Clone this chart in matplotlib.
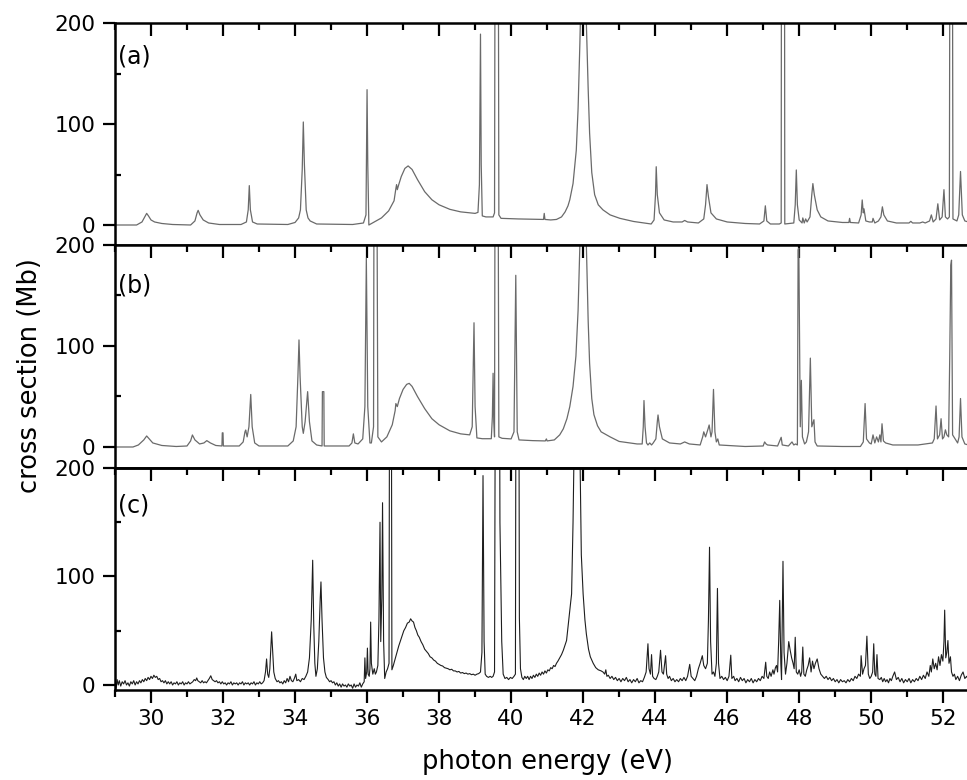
import matplotlib
matplotlib.use("Agg")
import matplotlib.pyplot as plt
import numpy as np
from matplotlib.ticker import MultipleLocator

# (photon energy in eV, cross section in Mb)
trace_a = [
    (29.00, 0), (29.60, 0), (29.75, 3), (29.84, 9), (29.88, 11.5), (29.93, 9), (30.00, 5),
    (30.10, 3), (30.30, 1.5), (30.60, 0.5), (31.10, 0), (31.22, 4), (31.28, 12), (31.31, 14.5),
    (31.36, 10), (31.45, 5), (31.60, 2), (31.90, 0.5), (32.50, 0.5), (32.65, 3), (32.70, 15),
    (32.73, 39), (32.76, 15), (32.82, 3), (32.95, 1), (33.80, 0.5), (34.00, 2.5), (34.10, 7),
    (34.15, 15), (34.20, 55), (34.23, 102), (34.26, 60), (34.31, 15), (34.36, 7), (34.42, 4),
    (34.60, 1), (35.60, 0.5), (35.90, 2), (35.97, 10), (36.00, 134), (36.02, 60), (36.05, 0),
    (36.20, 3), (36.40, 7), (36.60, 14), (36.75, 24), (36.80, 36), (36.82, 40), (36.84, 35),
    (36.88, 40), (36.95, 48), (37.05, 56), (37.14, 58.5), (37.25, 55), (37.40, 45), (37.60, 33),
    (37.80, 25), (38.00, 20), (38.30, 15.5), (38.60, 13), (39.00, 11.5), (39.08, 12.5),
    (39.12, 40), (39.15, 189), (39.17, 60), (39.20, 9), (39.30, 8), (39.50, 8), (39.54, 12),
    (39.56, 400), (39.64, 400), (39.66, 10), (39.72, 6.6), (40.20, 6), (40.90, 5.5),
    (40.92, 11.5), (40.94, 5.5), (41.10, 5), (41.26, 5.5), (41.40, 8), (41.50, 13), (41.58, 19),
    (41.63, 25), (41.72, 41), (41.81, 74), (41.86, 115), (41.91, 180), (41.96, 260),
    (42.04, 260), (42.09, 200), (42.14, 135), (42.18, 91), (42.24, 52), (42.32, 30), (42.42, 20),
    (42.55, 15), (42.75, 10), (43.02, 6.6), (43.40, 3.5), (43.89, 1), (43.97, 5), (44.01, 30),
    (44.03, 57.7), (44.06, 30), (44.12, 12), (44.25, 5), (44.50, 3), (44.75, 3), (44.82, 4.5),
    (44.90, 3), (45.20, 2), (45.35, 6), (45.40, 20), (45.44, 40), (45.48, 28), (45.55, 12),
    (45.70, 6), (46.00, 3), (46.50, 1.5), (46.90, 1), (47.02, 4), (47.06, 19), (47.10, 4),
    (47.20, 1), (47.45, 1), (47.50, 2), (47.51, 400), (47.59, 400), (47.60, 1), (47.85, 2),
    (47.89, 20), (47.92, 54.5), (47.95, 20), (48.00, 5), (48.08, 2), (48.10, 7), (48.14, 2),
    (48.18, 6), (48.22, 3), (48.30, 8), (48.35, 30), (48.38, 41), (48.42, 30), (48.50, 15),
    (48.60, 8), (48.80, 4), (49.20, 2.5), (49.38, 2.5), (49.40, 6.6), (49.42, 2.5), (49.65, 2),
    (49.72, 10), (49.75, 24.8), (49.78, 12), (49.80, 16), (49.85, 4), (49.95, 3), (50.03, 3),
    (50.05, 6.6), (50.10, 2), (50.20, 4), (50.27, 8), (50.31, 18), (50.35, 10), (50.45, 4),
    (50.70, 2), (51.05, 2), (51.10, 3.6), (51.15, 2), (51.35, 2), (51.43, 3), (51.50, 2),
    (51.62, 4), (51.67, 10), (51.72, 3), (51.80, 6), (51.85, 21), (51.90, 5), (51.97, 8),
    (52.02, 35), (52.06, 8), (52.12, 6), (52.17, 8), (52.19, 400), (52.25, 400), (52.27, 6),
    (52.38, 4), (52.43, 10), (52.48, 53), (52.53, 10), (52.60, 4), (52.70, 3),
]

trace_b = [
    (29.00, 0), (29.50, 0), (29.65, 2), (29.74, 5), (29.80, 7), (29.88, 10.9), (29.95, 8),
    (30.05, 4), (30.30, 1.5), (30.70, 0.5), (31.00, 1), (31.10, 6), (31.15, 11.9), (31.22, 7),
    (31.35, 3), (31.47, 4), (31.55, 6.3), (31.65, 4), (31.80, 1.5), (31.97, 1), (31.98, 14),
    (32.00, 14), (32.01, 1), (32.45, 1), (32.56, 5), (32.61, 15), (32.63, 16.8), (32.67, 10),
    (32.72, 20), (32.77, 52), (32.81, 20), (32.88, 4), (33.00, 1), (33.80, 1), (33.95, 6),
    (34.03, 20), (34.08, 70), (34.11, 106), (34.14, 70), (34.20, 20), (34.23, 13.5), (34.28, 25),
    (34.35, 54.8), (34.40, 25), (34.47, 6), (34.60, 2), (34.75, 1), (34.76, 54.8), (34.80, 54.8),
    (34.81, 1), (35.50, 1), (35.58, 4), (35.62, 13), (35.66, 4), (35.75, 3), (35.88, 8),
    (35.94, 40), (35.98, 187), (36.02, 40), (36.08, 4), (36.12, 4), (36.18, 20), (36.20, 400),
    (36.26, 400), (36.30, 10), (36.40, 5), (36.55, 10), (36.70, 22), (36.78, 36), (36.80, 43),
    (36.84, 40), (36.90, 48), (37.00, 57), (37.10, 62), (37.17, 63), (37.25, 60), (37.40, 50),
    (37.60, 38), (37.80, 28), (38.00, 22), (38.30, 16), (38.60, 13), (38.85, 12), (38.92, 20),
    (38.97, 123), (39.00, 40), (39.05, 9), (39.20, 8.2), (39.45, 8.2), (39.48, 30), (39.50, 73),
    (39.52, 25), (39.54, 10), (39.56, 400), (39.63, 400), (39.66, 10), (39.75, 8.6), (40.00, 8),
    (40.08, 15), (40.13, 170), (40.17, 15), (40.22, 7), (40.60, 6.3), (40.95, 6), (40.98, 8),
    (41.00, 6), (41.20, 7), (41.35, 12), (41.45, 18), (41.55, 28), (41.63, 40), (41.72, 60),
    (41.80, 90), (41.86, 135), (41.91, 200), (41.96, 260), (42.04, 260), (42.09, 200),
    (42.14, 125), (42.18, 83), (42.24, 48), (42.30, 32), (42.40, 21), (42.50, 15), (42.75, 10),
    (43.00, 5.5), (43.50, 3), (43.64, 3), (43.67, 20), (43.69, 46), (43.72, 20), (43.76, 4),
    (43.80, 2), (43.85, 4), (43.90, 2), (43.94, 3.7), (44.02, 8), (44.06, 25), (44.08, 31.7),
    (44.12, 20), (44.20, 8), (44.40, 4), (44.70, 3), (44.82, 5), (44.95, 3), (45.25, 2),
    (45.32, 10), (45.35, 15), (45.40, 10), (45.47, 18), (45.50, 21.8), (45.55, 10), (45.58, 15),
    (45.62, 57), (45.66, 15), (45.70, 5), (45.74, 8), (45.78, 2), (46.50, 0.5), (47.00, 1),
    (47.04, 5), (47.08, 3), (47.12, 2), (47.40, 1), (47.50, 9.6), (47.53, 2), (47.70, 1),
    (47.80, 5), (47.85, 2), (47.90, 3), (47.95, 2), (47.97, 195), (47.99, 197), (48.03, 20),
    (48.06, 66), (48.09, 10), (48.15, 3), (48.20, 5), (48.26, 15), (48.31, 88), (48.35, 20),
    (48.41, 27), (48.44, 5), (48.50, 1), (49.20, 0.5), (49.70, 0.5), (49.78, 5), (49.83, 43),
    (49.87, 8), (49.95, 4), (50.00, 3), (50.05, 12), (50.10, 4), (50.15, 10), (50.20, 5),
    (50.24, 12), (50.27, 5), (50.30, 23), (50.34, 6), (50.40, 4), (50.60, 2), (51.00, 2),
    (51.30, 2), (51.50, 3), (51.70, 4), (51.75, 8), (51.80, 40.6), (51.84, 8), (51.90, 12),
    (51.94, 28), (51.98, 8), (52.02, 10), (52.06, 17), (52.10, 12), (52.15, 10), (52.18, 88),
    (52.21, 180), (52.23, 185), (52.26, 12), (52.33, 8), (52.40, 4), (52.44, 10), (52.48, 48),
    (52.52, 10), (52.60, 3), (52.70, 2),
]

trace_c = [
    (29.00, 3), (29.03, -3), (29.06, 5), (29.09, 0), (29.12, 4), (29.16, -1), (29.20, 3),
    (29.24, 1), (29.28, 4), (29.32, 0), (29.36, 2), (29.40, -1), (29.44, 3), (29.48, 1),
    (29.52, 4), (29.56, 0), (29.60, 3), (29.64, 1), (29.68, 4), (29.72, 2), (29.76, 5),
    (29.80, 3), (29.84, 6), (29.88, 4), (29.92, 7), (29.96, 5), (30.00, 8), (30.04, 6),
    (30.08, 9), (30.12, 7), (30.16, 8), (30.20, 5), (30.24, 6), (30.28, 3), (30.32, 4),
    (30.36, 2), (30.40, 4), (30.44, 1), (30.48, 3), (30.52, 1), (30.56, 3), (30.60, 0),
    (30.64, 2), (30.68, 1), (30.72, 3), (30.76, 0), (30.80, 2), (30.84, 1), (30.88, 3),
    (30.92, 0), (30.96, 2), (31.00, 1), (31.04, 3), (31.08, 1), (31.12, 2), (31.16, 3),
    (31.20, 5), (31.24, 4), (31.27, 6.5), (31.30, 4), (31.34, 3), (31.38, 2), (31.42, 4),
    (31.46, 2), (31.50, 3), (31.54, 2), (31.58, 4), (31.62, 6), (31.66, 8.5), (31.70, 5),
    (31.74, 4), (31.78, 3), (31.82, 4), (31.86, 2), (31.90, 3), (31.94, 1), (31.98, 3),
    (32.02, 1), (32.06, 2), (32.10, 0), (32.14, 2), (32.18, 1), (32.22, 3), (32.26, 0),
    (32.30, 2), (32.34, 1), (32.38, 2), (32.42, 0), (32.46, 2), (32.50, 1), (32.54, 3),
    (32.58, 0), (32.62, 2), (32.66, 1), (32.70, 2), (32.74, 0), (32.78, 2), (32.82, 1),
    (32.86, 3), (32.90, 0), (32.94, 2), (32.98, 1), (33.02, 3), (33.06, 1), (33.10, 2),
    (33.14, 4), (33.18, 12), (33.21, 24), (33.24, 10), (33.27, 7), (33.30, 15), (33.33, 35),
    (33.35, 49), (33.38, 30), (33.41, 12), (33.45, 6), (33.50, 3), (33.54, 4), (33.58, 2),
    (33.62, 3), (33.66, 1), (33.70, 4), (33.74, 2), (33.78, 6), (33.82, 3), (33.86, 8),
    (33.90, 4), (33.94, 3), (33.98, 6), (34.02, 10), (34.05, 4), (34.10, 5), (34.15, 3),
    (34.20, 6), (34.25, 5), (34.30, 8), (34.35, 12), (34.40, 25), (34.45, 60), (34.49, 115),
    (34.52, 55), (34.55, 20), (34.58, 8), (34.62, 15), (34.66, 40), (34.70, 80), (34.72, 95),
    (34.75, 60), (34.79, 25), (34.83, 12), (34.87, 7), (34.92, 5), (34.96, 3), (35.00, 4),
    (35.04, 2), (35.08, 3), (35.12, 0), (35.16, 2), (35.20, -1), (35.24, 1), (35.28, -2),
    (35.32, 1), (35.36, -1), (35.40, 0), (35.44, -2), (35.48, 1), (35.52, -1), (35.56, 0),
    (35.60, -3), (35.64, 1), (35.68, -2), (35.72, 0), (35.76, -1), (35.80, 2), (35.84, -2),
    (35.88, 1), (35.92, 3), (35.94, 25), (35.96, 6), (35.99, 12), (36.01, 34), (36.03, 10),
    (36.06, 8), (36.08, 15), (36.10, 58), (36.12, 20), (36.16, 10), (36.20, 15), (36.23, 10),
    (36.26, 12), (36.30, 18), (36.33, 60), (36.36, 150), (36.38, 40), (36.41, 80), (36.43, 168),
    (36.46, 40), (36.49, 6), (36.53, 12), (36.57, 15), (36.61, 20), (36.63, 400), (36.67, 400),
    (36.69, 14), (36.73, 18), (36.78, 24), (36.83, 30), (36.88, 36), (36.92, 40), (36.97, 45),
    (37.02, 50), (37.07, 53), (37.12, 57), (37.17, 58), (37.21, 61), (37.25, 59), (37.29, 58),
    (37.33, 53), (37.37, 50), (37.41, 46), (37.45, 44), (37.50, 40), (37.55, 37), (37.60, 33),
    (37.65, 31), (37.70, 29), (37.75, 26), (37.80, 25), (37.85, 23), (37.90, 22), (37.95, 20),
    (38.00, 19), (38.05, 18), (38.10, 17.5), (38.15, 16), (38.20, 15.5), (38.25, 15),
    (38.30, 14), (38.35, 14.5), (38.40, 13), (38.45, 13), (38.50, 12), (38.55, 12.5),
    (38.60, 11), (38.65, 11.5), (38.70, 10.5), (38.75, 11), (38.80, 10), (38.85, 10.5),
    (38.90, 9.5), (38.95, 10), (39.00, 9), (39.05, 10), (39.10, 10.5), (39.15, 12), (39.19, 30),
    (39.22, 193), (39.25, 40), (39.28, 10), (39.32, 8), (39.37, 7), (39.42, 8), (39.46, 7),
    (39.50, 8), (39.54, 12), (39.57, 400), (39.67, 400), (39.69, 150), (39.71, 107), (39.74, 40),
    (39.78, 10), (39.83, 6), (39.88, 7), (39.93, 5), (39.98, 7), (40.03, 6), (40.08, 8),
    (40.12, 10), (40.14, 400), (40.21, 400), (40.23, 62), (40.26, 15), (40.30, 7), (40.34, 5),
    (40.38, 8), (40.42, 6), (40.46, 8), (40.50, 5), (40.54, 8), (40.58, 6), (40.62, 9),
    (40.66, 7), (40.70, 10), (40.74, 8), (40.78, 11), (40.82, 9), (40.86, 12), (40.90, 10),
    (40.94, 13), (40.98, 11), (41.02, 14), (41.06, 13), (41.10, 16), (41.14, 15), (41.18, 18),
    (41.22, 17), (41.26, 20), (41.30, 22), (41.35, 25), (41.40, 28), (41.45, 32), (41.50, 37),
    (41.54, 41), (41.60, 60), (41.65, 75), (41.68, 84), (41.72, 150), (41.75, 220),
    (41.85, 260), (41.91, 220), (41.95, 120), (42.00, 84), (42.05, 60), (42.09, 47), (42.15, 33),
    (42.20, 26), (42.28, 20), (42.35, 16), (42.42, 14), (42.50, 13), (42.55, 12), (42.60, 10),
    (42.63, 14), (42.66, 8), (42.70, 9), (42.75, 6), (42.80, 8), (42.85, 5), (42.90, 7),
    (42.95, 4), (43.00, 6), (43.05, 3), (43.10, 6), (43.15, 4), (43.20, 7), (43.25, 3),
    (43.30, 5), (43.35, 2), (43.40, 5), (43.45, 3), (43.50, 6), (43.55, 2), (43.60, 4),
    (43.65, 3), (43.70, 7), (43.75, 12), (43.80, 38), (43.83, 15), (43.87, 10), (43.90, 28),
    (43.93, 8), (43.97, 6), (44.02, 5), (44.06, 8), (44.10, 12), (44.15, 32), (44.19, 12),
    (44.23, 10), (44.29, 27), (44.32, 10), (44.36, 6), (44.40, 8), (44.45, 4), (44.50, 6),
    (44.55, 3), (44.60, 5), (44.65, 3), (44.70, 6), (44.75, 4), (44.80, 7), (44.85, 4),
    (44.90, 8), (44.96, 19), (45.00, 8), (45.05, 6), (45.10, 4), (45.15, 8), (45.20, 15),
    (45.25, 20), (45.31, 27), (45.35, 18), (45.40, 15), (45.45, 20), (45.48, 60), (45.51, 127),
    (45.54, 40), (45.58, 10), (45.62, 12), (45.66, 8), (45.70, 20), (45.73, 89), (45.76, 20),
    (45.80, 6), (45.85, 8), (45.90, 5), (45.95, 7), (46.00, 4), (46.05, 8), (46.10, 27.5),
    (46.13, 6), (46.18, 8), (46.22, 4), (46.27, 6), (46.32, 3), (46.37, 7), (46.42, 4),
    (46.47, 6), (46.52, 2), (46.57, 5), (46.62, 3), (46.67, 6), (46.72, 2), (46.77, 5),
    (46.82, 3), (46.87, 6), (46.92, 4), (46.97, 8), (47.02, 6), (47.07, 21), (47.10, 8),
    (47.14, 6), (47.18, 12), (47.22, 8), (47.27, 14), (47.30, 10), (47.34, 16), (47.37, 18),
    (47.40, 12), (47.43, 40), (47.46, 78), (47.49, 20), (47.51, 5), (47.53, 60), (47.55, 114),
    (47.58, 30), (47.62, 10), (47.66, 20), (47.71, 40), (47.75, 32), (47.79, 25), (47.83, 20),
    (47.86, 15), (47.89, 44), (47.92, 12), (47.96, 10), (48.00, 14), (48.04, 8), (48.07, 12),
    (48.10, 35), (48.13, 10), (48.17, 8), (48.21, 14), (48.25, 18), (48.29, 25), (48.33, 12),
    (48.37, 22), (48.41, 15), (48.45, 20), (48.50, 24), (48.55, 15), (48.60, 10), (48.65, 8),
    (48.70, 6), (48.75, 8), (48.80, 5), (48.85, 7), (48.90, 4), (48.95, 6), (49.00, 3),
    (49.05, 5), (49.10, 2), (49.15, 5), (49.20, 3), (49.25, 4), (49.30, 2), (49.35, 5),
    (49.40, 3), (49.45, 6), (49.50, 4), (49.55, 8), (49.60, 6), (49.65, 10), (49.70, 8),
    (49.72, 27), (49.76, 10), (49.80, 15), (49.84, 18), (49.88, 45), (49.92, 10), (49.96, 6),
    (50.00, 8), (50.04, 12), (50.07, 38), (50.10, 10), (50.13, 8), (50.16, 28), (50.19, 6),
    (50.24, 5), (50.28, 7), (50.32, 3), (50.36, 6), (50.40, 3), (50.44, 5), (50.48, 2),
    (50.52, 6), (50.56, 4), (50.60, 8), (50.65, 12), (50.70, 5), (50.75, 7), (50.80, 3),
    (50.85, 6), (50.90, 2), (50.95, 5), (51.00, 3), (51.05, 6), (51.10, 2), (51.15, 5),
    (51.20, 3), (51.25, 6), (51.30, 4), (51.35, 8), (51.40, 5), (51.45, 9), (51.50, 6),
    (51.55, 12), (51.60, 8), (51.64, 18), (51.67, 12), (51.71, 24), (51.75, 15), (51.79, 20),
    (51.83, 14), (51.87, 26), (51.91, 18), (51.95, 28), (51.99, 22), (52.02, 40), (52.04, 69),
    (52.07, 25), (52.10, 30), (52.13, 41), (52.16, 20), (52.20, 26), (52.23, 12), (52.27, 8),
    (52.31, 10), (52.35, 5), (52.40, 8), (52.45, 4), (52.50, 9), (52.55, 12), (52.60, 6),
    (52.65, 8), (52.70, 5),
]

panel_labels = ["(a)", "(b)", "(c)"]
traces = [trace_a, trace_b, trace_c]
line_colors = ["#6a6a6a", "#6a6a6a", "#1e1e1e"]
line_widths = [0.9, 0.9, 0.8]
y_limits = [(-19.8, 200), (-20.8, 200), (-4.6, 200)]
label_y = [0.85, 0.82, 0.83]

fig = plt.figure(figsize=(9.67, 7.8), dpi=100)

# panel rectangles in figure fractions, top to bottom
boxes = [
    (0.1189, 0.6859, 0.8811, 0.2846),
    (0.1189, 0.4000, 0.8811, 0.2859),
    (0.1189, 0.1154, 0.8811, 0.2846),
]

for i, (box, trace) in enumerate(zip(boxes, traces)):
    ax = fig.add_axes(box)
    energy, sigma = np.array(trace).T
    ax.plot(energy, sigma, color=line_colors[i], lw=line_widths[i])
    ax.set_xlim(29.0, 52.66)
    ax.set_ylim(*y_limits[i])

    ax.xaxis.set_major_locator(MultipleLocator(2))
    ax.xaxis.set_minor_locator(MultipleLocator(1))
    ax.yaxis.set_major_locator(MultipleLocator(100))
    ax.yaxis.set_minor_locator(MultipleLocator(50))

    for side in ["left", "top", "bottom"]:
        ax.spines[side].set_linewidth(1.8)
    ax.spines["right"].set_visible(False)

    last = i == len(traces) - 1
    ax.tick_params(axis="x", which="both", top=True, bottom=last, direction="in",
                   labelbottom=last, width=1.6)
    ax.tick_params(axis="x", which="major", length=9)
    ax.tick_params(axis="x", which="minor", length=5)
    ax.tick_params(axis="y", which="major", direction="out", length=9, width=1.6,
                   labelsize=15.5, pad=5)
    ax.tick_params(axis="y", which="minor", direction="in", length=4, width=1.6)
    if last:
        # bottom axis ticks point outward on the lowest panel
        ax.tick_params(axis="x", which="major", bottom=True, length=9,
                       labelsize=15.5, pad=5)
        ax.xaxis.set_tick_params(which="both", direction="out")
        ax.tick_params(axis="x", which="both", top=False)
        top = ax.secondary_xaxis("top")
        top.xaxis.set_major_locator(MultipleLocator(2))
        top.xaxis.set_minor_locator(MultipleLocator(1))
        top.tick_params(which="both", direction="in", width=1.6, labeltop=False)
        top.tick_params(which="major", length=9)
        top.tick_params(which="minor", length=5)
        top.spines["top"].set_linewidth(1.8)

    ax.text(0.004, label_y[i], panel_labels[i], transform=ax.transAxes,
            fontsize=17, va="center", ha="left")

fig.text(547 / 967, 1 - 762 / 780, "photon energy (eV)", fontsize=18.5,
         ha="center", va="center")
fig.text(30 / 967, 1 - 376 / 780, "cross section (Mb)", fontsize=18.5,
         ha="center", va="center", rotation=90)

fig.savefig("out.png", dpi=100)
